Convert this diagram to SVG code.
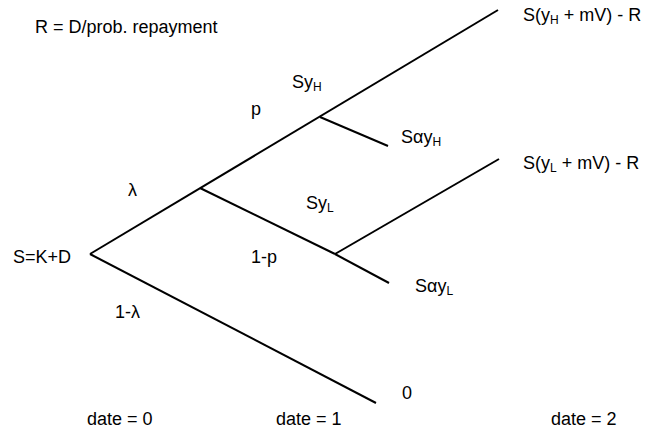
<svg xmlns="http://www.w3.org/2000/svg" width="645" height="434" viewBox="0 0 645 434">
<style>
text{font-family:"Liberation Sans",Arial,sans-serif;font-size:18px;fill:#000}
.sub{font-size:12px}
line{stroke:#000;stroke-width:2;fill:none}
</style>
<rect width="645" height="434" fill="#fff"/>
<g id="connectors">
<line x1="90" y1="254" x2="498" y2="10"/>
<line x1="200" y1="188" x2="335" y2="254"/>
<line x1="335" y1="254" x2="389" y2="283"/>
<line x1="335" y1="254" x2="499" y2="159"/>
<line x1="320" y1="117" x2="388" y2="146"/>
<line x1="90" y1="254" x2="376" y2="403"/>
</g>
<g id="note"><text x="35" y="33">R = D/prob. repayment</text></g>
<g id="root"><text x="13" y="263">S=K+D</text></g>
<g id="labels">
<text x="128" y="196">λ</text>
<text x="115" y="318">1-λ</text>
<text x="251" y="115">p</text>
<text x="251" y="263">1-p</text>
<text x="292" y="88">Sy<tspan class="sub" dy="3">H</tspan></text>
<text x="306" y="209">Sy<tspan class="sub" dy="3">L</tspan></text>
</g>
<g id="node-hh"><text x="523" y="21">S(y<tspan class="sub" dy="3">H</tspan><tspan dy="-3"> + mV) - R</tspan></text></g>
<g id="node-ah"><text x="401" y="143">Sαy<tspan class="sub" dy="3">H</tspan></text></g>
<g id="node-ll"><text x="523" y="169">S(y<tspan class="sub" dy="3">L</tspan><tspan dy="-3"> + mV) - R</tspan></text></g>
<g id="node-al"><text x="415" y="292">Sαy<tspan class="sub" dy="3">L</tspan></text></g>
<g id="node-zero"><text x="402" y="399">0</text></g>
<g id="dates">
<text x="87" y="425">date = 0</text>
<text x="276" y="425">date = 1</text>
<text x="551" y="425">date = 2</text>
</g>
</svg>
